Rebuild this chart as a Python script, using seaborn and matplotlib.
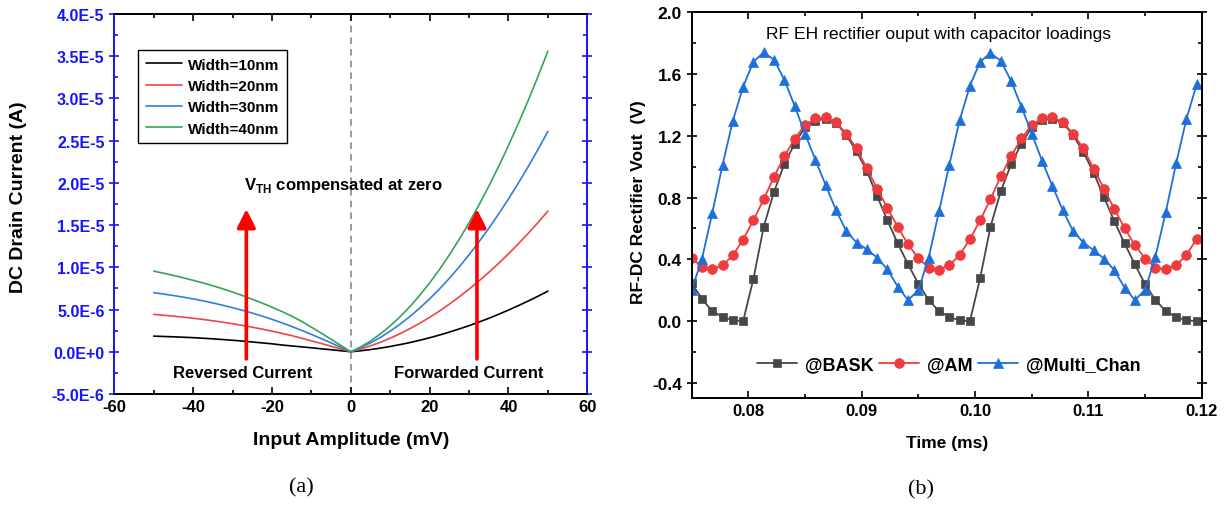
import numpy as np
import pandas as pd
import matplotlib
matplotlib.use("Agg")
import matplotlib.pyplot as plt
import seaborn as sns
from matplotlib.ticker import MultipleLocator, FuncFormatter

# ---------------- panel (a): DC drain current vs input amplitude ----------------
amplitude_mv = [-50, -47.5, -45, -42.5, -40, -37.5, -35, -32.5, -30, -27.5, -25,
                -22.5, -20, -17.5, -15, -12.5, -10, -7.5, -5, -2.5, 0,
                2.5, 5, 7.5, 10, 12.5, 15, 17.5, 20, 22.5, 25,
                27.5, 30, 32.5, 35, 37.5, 40, 42.5, 45, 47.5, 50]
# drain current in microamps
current_w10 = [1.85, 1.81, 1.77, 1.72, 1.67, 1.60, 1.53, 1.45, 1.36, 1.27, 1.16,
               1.05, 0.94, 0.80, 0.69, 0.58, 0.47, 0.35, 0.24, 0.12, 0.0,
               0.12, 0.26, 0.43, 0.63, 0.85, 1.09, 1.36, 1.66, 1.98, 2.33,
               2.70, 3.09, 3.52, 3.96, 4.44, 4.94, 5.46, 6.01, 6.58, 7.18]
current_w20 = [4.42, 4.33, 4.22, 4.10, 3.97, 3.83, 3.67, 3.50, 3.32, 3.12, 2.91,
               2.68, 2.44, 2.18, 1.91, 1.61, 1.29, 0.98, 0.66, 0.33, 0.0,
               0.32, 0.70, 1.12, 1.61, 2.14, 2.74, 3.38, 4.08, 4.83, 5.64,
               6.50, 7.41, 8.38, 9.40, 10.47, 11.60, 12.79, 14.02, 15.31, 16.66]
current_w30 = [6.99, 6.83, 6.66, 6.47, 6.26, 6.03, 5.78, 5.51, 5.22, 4.91, 4.58,
               4.22, 3.84, 3.43, 3.00, 2.54, 2.06, 1.56, 1.05, 0.53, 0.0,
               0.48, 1.05, 1.70, 2.44, 3.27, 4.18, 5.18, 6.27, 7.44, 8.70,
               10.05, 11.49, 13.01, 14.62, 16.32, 18.10, 19.97, 21.92, 23.97, 26.10]
current_w40 = [9.55, 9.30, 9.04, 8.76, 8.46, 8.15, 7.82, 7.46, 7.07, 6.66, 6.22,
               5.76, 5.28, 4.77, 4.22, 3.60, 2.91, 2.21, 1.48, 0.74, 0.0,
               0.58, 1.28, 2.11, 3.07, 4.15, 5.36, 6.70, 8.16, 9.75, 11.47,
               13.31, 15.28, 17.38, 19.60, 21.95, 24.43, 27.03, 29.76, 32.62, 35.60]
width_labels = ["Width=10nm", "Width=20nm", "Width=30nm", "Width=40nm"]
width_colors = ["#000000", "#F04545", "#2F7FE0", "#35A35A"]

# ---------------- panel (b): rectifier output vs time ----------------
time_ms = [0.07500, 0.07591, 0.07682, 0.07773, 0.07864, 0.07955, 0.08045, 0.08136,
           0.08227, 0.08318, 0.08409, 0.08500, 0.08591, 0.08682, 0.08773, 0.08864,
           0.08955, 0.09045, 0.09136, 0.09227, 0.09318, 0.09409, 0.09500, 0.09591,
           0.09682, 0.09773, 0.09864, 0.09955, 0.10045, 0.10136, 0.10227, 0.10318,
           0.10409, 0.10500, 0.10591, 0.10682, 0.10773, 0.10864, 0.10955, 0.11045,
           0.11136, 0.11227, 0.11318, 0.11409, 0.11500, 0.11591, 0.11682, 0.11773,
           0.11864, 0.11955]
vout_bask = [0.245, 0.145, 0.063, 0.028, 0.005, 0.000, 0.272, 0.610, 0.837, 1.016,
             1.150, 1.255, 1.297, 1.310, 1.285, 1.205, 1.100, 0.973, 0.810, 0.653,
             0.504, 0.368, 0.242, 0.136, 0.065, 0.026, 0.005, 0.000, 0.279, 0.610,
             0.841, 1.016, 1.150, 1.255, 1.300, 1.310, 1.285, 1.205, 1.095, 0.962,
             0.804, 0.649, 0.504, 0.368, 0.238, 0.136, 0.065, 0.026, 0.005, 0.000]
vout_am = [0.411, 0.350, 0.335, 0.361, 0.426, 0.528, 0.653, 0.789, 0.934, 1.068,
           1.180, 1.269, 1.313, 1.321, 1.287, 1.215, 1.118, 0.990, 0.858, 0.733,
           0.610, 0.497, 0.407, 0.346, 0.333, 0.361, 0.428, 0.530, 0.653, 0.789,
           0.938, 1.068, 1.183, 1.269, 1.314, 1.321, 1.287, 1.215, 1.118, 0.988,
           0.858, 0.729, 0.603, 0.493, 0.405, 0.346, 0.335, 0.361, 0.428, 0.534]
vout_multi = [0.201, 0.400, 0.698, 1.010, 1.297, 1.518, 1.680, 1.740, 1.693, 1.563,
              1.394, 1.215, 1.046, 0.882, 0.720, 0.584, 0.508, 0.465, 0.411, 0.335,
              0.223, 0.136, 0.199, 0.411, 0.710, 1.012, 1.300, 1.524, 1.680, 1.736,
              1.686, 1.556, 1.388, 1.215, 1.038, 0.875, 0.720, 0.584, 0.508, 0.460,
              0.405, 0.331, 0.217, 0.136, 0.201, 0.418, 0.707, 1.021, 1.308, 1.535]
series_labels = ["@BASK", "@AM", "@Multi_Chan"]
series_colors = ["#474747", "#EF3B3D", "#1F6FDA"]
series_markers = ["s", "o", "^"]
series_msize = [6.0, 7.0, 7.5]

# ---------------- styling ----------------
sns.set_theme(style="ticks")
plt.rcParams["font.family"] = ["Liberation Sans", "DejaVu Sans"]
plt.rcParams["mathtext.fontset"] = "custom"
plt.rcParams["mathtext.rm"] = "Liberation Sans"
plt.rcParams["mathtext.bf"] = "Liberation Sans:bold"
plt.rcParams["axes.unicode_minus"] = False
for key in ["text.color", "axes.labelcolor", "xtick.color", "ytick.color",
            "axes.edgecolor"]:
    plt.rcParams[key] = "black"

fig = plt.figure(figsize=(12.29, 5.06), dpi=100)
ax1 = fig.add_axes([0.0930, 0.2194, 0.3849, 0.7510])
ax2 = fig.add_axes([0.5627, 0.2109, 0.4152, 0.7628])

# ---- panel (a) ----
curves = [current_w10, current_w20, current_w30, current_w40]
df_a = pd.DataFrame({
    "amplitude": np.tile(amplitude_mv, len(curves)),
    "current": np.concatenate([np.asarray(c) * 1e-6 for c in curves]),
    "width": np.repeat(width_labels, len(amplitude_mv)),
})
sns.lineplot(data=df_a, x="amplitude", y="current", hue="width",
             palette=width_colors, linewidth=1.2, errorbar=None, ax=ax1)

ax1.axvline(0, color="#8A8A8A", linestyle=(0, (4, 3)), linewidth=1.2, zorder=0)

ax1.set_xlim(-60, 60)
ax1.set_ylim(-5e-6, 4e-5)
ax1.xaxis.set_major_locator(MultipleLocator(20))
ax1.xaxis.set_minor_locator(MultipleLocator(10))
ax1.yaxis.set_major_locator(MultipleLocator(5e-6))
ax1.yaxis.set_minor_locator(MultipleLocator(2.5e-6))


def sci_fmt(v, pos):
    mant, expo = f"{v:.1E}".split("E")
    e = int(expo)
    return f"{mant}E{e:+d}" if e >= 0 else f"{mant}E{e:d}"


ax1.yaxis.set_major_formatter(FuncFormatter(sci_fmt))

for sp in ax1.spines.values():
    sp.set_linewidth(1.4)
    sp.set_visible(True)
for side in ["left", "right"]:
    ax1.spines[side].set_color("#1414FF")
for side in ["top", "bottom"]:
    ax1.spines[side].set_color("black")

ax1.tick_params(axis="x", which="both", direction="in", top=True, bottom=True,
                colors="black", labelsize=12, width=1.2)
ax1.tick_params(axis="x", which="major", length=5)
ax1.tick_params(axis="x", which="minor", length=3)
ax1.tick_params(axis="y", which="both", right=True, left=True, colors="#1414FF",
                labelcolor="#1414FF", labelsize=11.5, width=1.2)
ax1.tick_params(axis="y", which="major", direction="inout", length=7)
ax1.tick_params(axis="y", which="minor", direction="in", length=3)
for lbl in ax1.get_xticklabels() + ax1.get_yticklabels():
    lbl.set_fontweight("bold")

ax1.set_xlabel("Input Amplitude (mV)", fontsize=14, fontweight="bold")
ax1.set_ylabel("DC Drain Current (A)", fontsize=14, fontweight="bold")
ax1.xaxis.set_label_coords(0.5, -0.097)
ax1.yaxis.set_label_coords(-0.185, 0.52)

handles, labels = ax1.get_legend_handles_labels()
leg1 = ax1.legend(handles, labels, loc="upper left", bbox_to_anchor=(0.05, 0.905),
                  frameon=True, fancybox=False, edgecolor="black", framealpha=1,
                  prop={"weight": "bold", "size": 11}, handlelength=2.4,
                  handletextpad=0.4, labelspacing=0.48, borderpad=0.5,
                  borderaxespad=0)
leg1.get_frame().set_linewidth(1.0)

# arrows and annotations
arrow_kw = dict(arrowstyle="-|>,head_length=0.8,head_width=0.4", color="#FF0000",
                lw=2.6, shrinkA=0, shrinkB=0, mutation_scale=14)
ax1.annotate("", xy=(-26.5, 16.9e-6), xytext=(-26.5, -0.85e-6), arrowprops=arrow_kw)
ax1.annotate("", xy=(32.0, 16.9e-6), xytext=(32.0, -0.85e-6), arrowprops=arrow_kw)

ax1.text(-27.5, -2.5e-6, "Reversed Current", ha="center", va="center",
         fontsize=12, fontweight="bold")
ax1.text(29.8, -2.4e-6, "Forwarded Current", ha="center", va="center",
         fontsize=12, fontweight="bold")
ax1.text(-27.0, 19.8e-6, r"V$_{\mathbf{TH}}$ compensated at zero", ha="left",
         va="center", fontsize=12, fontweight="bold")

# ---- panel (b) ----
series = [vout_bask, vout_am, vout_multi]
for vals, lab, col, mk, ms in zip(series, series_labels, series_colors,
                                  series_markers, series_msize):
    sns.lineplot(x=time_ms, y=vals, ax=ax2, color=col, linewidth=1.3,
                 marker=mk, markersize=ms, markeredgecolor=col,
                 markerfacecolor=col, markeredgewidth=0.5, label=lab,
                 errorbar=None, sort=False)

ax2.set_xlim(0.075, 0.12)
ax2.set_ylim(-0.5, 2.0)
ax2.xaxis.set_major_locator(MultipleLocator(0.01))
ax2.xaxis.set_minor_locator(MultipleLocator(0.005))
ax2.yaxis.set_major_locator(MultipleLocator(0.4))
ax2.yaxis.set_minor_locator(MultipleLocator(0.2))
ax2.xaxis.set_major_formatter(FuncFormatter(lambda v, p: f"{v:.2f}"))
ax2.yaxis.set_major_formatter(FuncFormatter(lambda v, p: f"{v:.1f}"))

for sp in ax2.spines.values():
    sp.set_visible(True)
    sp.set_color("black")
    sp.set_linewidth(1.4)

ax2.tick_params(axis="x", which="both", direction="in", top=True, bottom=True,
                labelsize=12, width=1.2, colors="black")
ax2.tick_params(axis="x", which="major", length=5)
ax2.tick_params(axis="x", which="minor", length=3)
ax2.tick_params(axis="y", which="both", left=True, right=True, labelsize=12.5,
                width=1.2, colors="black")
ax2.tick_params(axis="y", which="major", direction="inout", length=7)
ax2.tick_params(axis="y", which="minor", direction="in", length=3)
for lbl in ax2.get_xticklabels() + ax2.get_yticklabels():
    lbl.set_fontweight("bold")

ax2.set_xlabel("Time (ms)", fontsize=12.5, fontweight="bold")
ax2.set_ylabel("RF-DC Rectifier Vout  (V)", fontsize=12.5, fontweight="bold")
ax2.xaxis.set_label_coords(0.5, -0.094)
ax2.yaxis.set_label_coords(-0.089, 0.51)

ax2.text(0.484, 0.946, "RF EH rectifier ouput with capacitor loadings",
         transform=ax2.transAxes, ha="center", va="center", fontsize=12.6)

h2, l2 = ax2.get_legend_handles_labels()
ax2.legend(h2, l2, loc="center", bbox_to_anchor=(0.504, 0.086), ncol=3,
           frameon=False, prop={"weight": "bold", "size": 13},
           handlelength=2.2, handletextpad=0.45, columnspacing=0.3,
           borderaxespad=0)

# panel captions
fig.text(0.245, 0.035, "(a)", ha="center", va="center", fontsize=16,
         family=["Liberation Serif", "DejaVu Serif"])
fig.text(0.749, 0.032, "(b)", ha="center", va="center", fontsize=16,
         family=["Liberation Serif", "DejaVu Serif"])

fig.savefig("out.png", dpi=100, facecolor="white")
